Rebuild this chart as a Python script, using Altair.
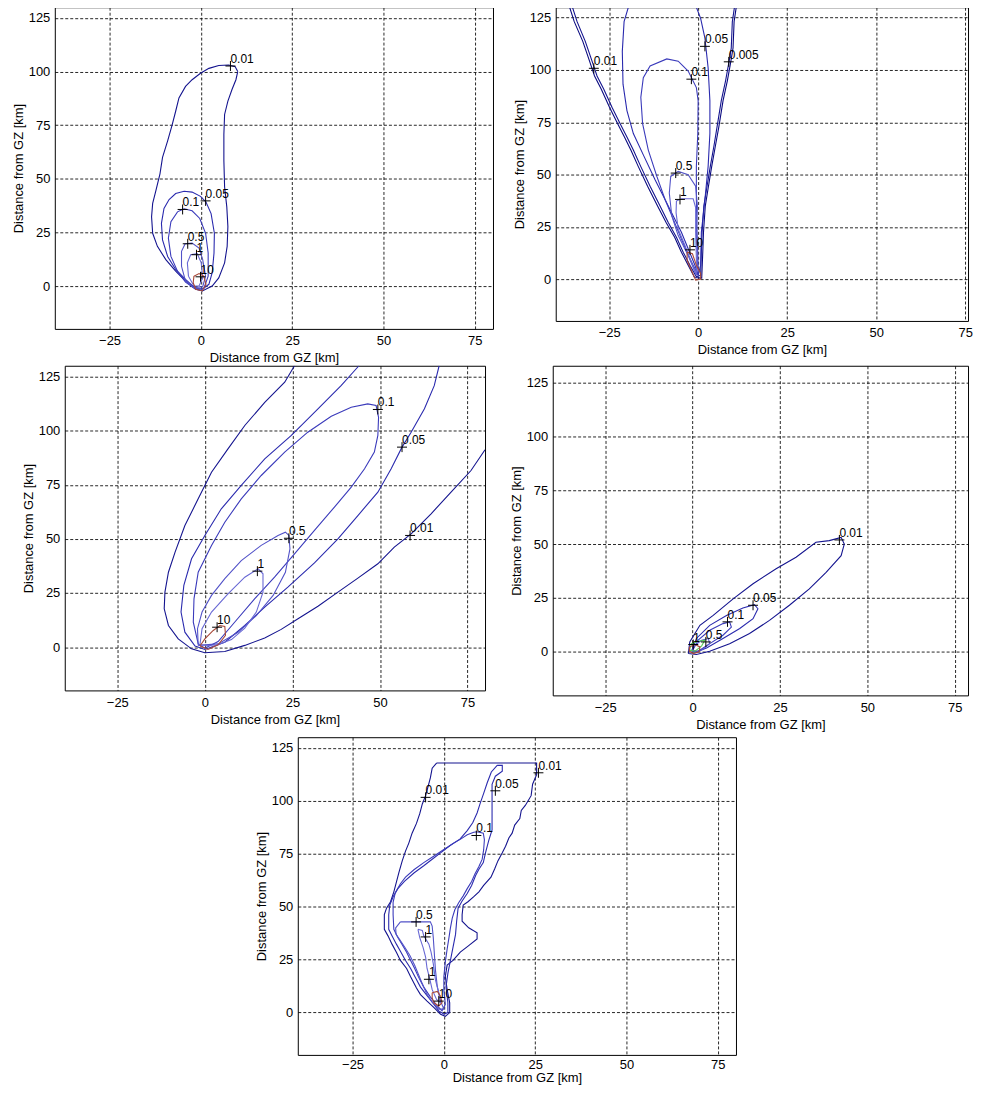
import altair as alt
import pandas as pd

# ---------------- shared axis values ----------------
XTICKS = [-25, 0, 25, 50, 75]
YTICKS = [0, 25, 50, 75, 100, 125]
AXIS_TITLE = "Distance from GZ [km]"

COLORS = {
    "0.005": "#0a0a80",
    "0.01": "#14148f",
    "0.05": "#2a2aae",
    "0.1": "#3a3abb",
    "0.5": "#5252c8",
    "1": "#6868d4",
    "1g": "#55cc55",
    "10": "#a84838",
}

# ---------------- panel 1 (top left) ----------------
P1_001 = [(10.1, 100), (9.4, 102.3), (7.6, 103.1), (4.9, 102.8), (2.2, 101.5), (-0.1, 99.2), (-2.4, 96.2),
          (-4.2, 93.1), (-6.0, 87.7), (-6.9, 81.5), (-7.9, 74.9), (-9.1, 67.7), (-10.5, 60), (-11.2, 52.3),
          (-12.3, 44.6), (-13.2, 38.5), (-13.5, 32.3), (-13.2, 24.6), (-11.9, 18.5), (-9.6, 12.3), (-6.9, 6.9),
          (-4.2, 2.3), (-1.4, -1.5), (0.4, -2.3), (3.1, 0), (4.9, 3.8), (6.5, 10.8), (7.2, 18.5), (7.4, 27.7),
          (7.1, 36.9), (6.5, 46.2), (6.3, 58.5), (6.3, 70.8), (6.5, 80), (7.4, 86.2), (8.5, 91.5), (9.6, 96.2)]
P1_005 = [(-1.4, -1.2), (-4.2, 3.1), (-6.9, 7.7), (-9.1, 13.8), (-10.5, 21.5), (-10.8, 29.2), (-10.1, 36.2),
          (-8.7, 40.3), (-6.9, 43.1), (-4.6, 44.2), (-2.4, 43.8), (-0.1, 41.8), (1.4, 39.2), (2.8, 33.8),
          (3.7, 24.6), (3.6, 15.4), (3.1, 6.2), (2.2, 0.8), (0.4, -1.5)]
P1_01 = [(-1.4, -1.5), (-4.2, 1.8), (-6.4, 6.9), (-8.2, 13.8), (-8.9, 22.3), (-8.2, 30), (-6.4, 34.6),
         (-4.6, 36), (-2.4, 35.1), (-0.3, 31.5), (1.3, 24.6), (2.0, 15.4), (2.0, 4.6), (0.8, -1.2)]
P1_05 = [(-1.9, -0.8), (-4.2, 2.3), (-5.3, 9.2), (-5.3, 16.2), (-4.3, 19.7), (-2.4, 20), (-0.5, 17.7),
         (0.5, 12.3), (1.3, 4.6), (0.5, -0.3)]
P1_1 = [(-1.9, 0), (-3.4, 4.6), (-3.7, 10.8), (-2.8, 14.6), (-1.0, 15.1), (0.1, 10.8), (0.5, 3.8), (-0.5, 0)]
P1_10 = [(-1.9, 4.6), (-0.5, 5.8), (0.8, 4.6), (1.4, 0.8), (0.4, -2.3), (-1.4, -1.5), (-2.1, 1.5)]
P1_LABELS = [("0.01", 8.1, 102.6), ("0.05", 1.3, 39.7), ("0.1", -5.0, 35.7), ("0.5", -3.6, 19.7),
             ("1", -1.2, 14.6), ("10", -0.1, 4.3)]

# ---------------- panel 2 (top right) ----------------
P2_0005 = [(-36.1, 130), (-34.8, 123.1), (-32.4, 113.7), (-30.5, 104.2), (-29.1, 97.1), (-27.2, 90.8),
           (-24.9, 82.2), (-22.6, 74.3), (-20.7, 68.0), (-18.9, 61.7), (-16.8, 53.8), (-14.2, 44.4),
           (-11.4, 35.0), (-9.0, 27.1), (-6.6, 20.0), (-4.7, 12.9), (-2.8, 6.6), (-1.0, 0.8), (1.0, 0.5),
           (1.3, 12.9), (1.5, 22.4), (2.0, 34.9), (2.9, 44.4), (3.8, 53.8), (4.8, 63.3), (5.8, 72.7),
           (7.0, 85.3), (8.2, 94.8), (9.2, 104.2), (9.8, 110.5), (10.1, 123.1), (10.7, 130)]
P2_001 = [(-35.3, 130), (-34.0, 123.1), (-31.7, 113.7), (-29.8, 104.2), (-28.4, 97.1), (-26.5, 90.8),
          (-24.2, 82.2), (-21.9, 74.3), (-20.0, 68.0), (-18.2, 61.7), (-16.1, 53.8), (-13.5, 44.4),
          (-10.7, 35.0), (-8.4, 27.1), (-6.1, 20.0), (-4.2, 12.9), (-2.3, 6.6), (-0.5, 1.1), (0.7, 1.9),
          (0.9, 12.9), (1.1, 22.4), (1.6, 34.9), (2.5, 44.4), (3.4, 53.8), (4.4, 63.3), (5.3, 72.7),
          (6.5, 85.3), (7.7, 94.8), (8.7, 104.2), (9.3, 110.5), (9.6, 123.1), (10.2, 130)]
P2_005 = [(-19.6, 130), (-20.8, 123.1), (-21.3, 108.9), (-21.1, 93.2), (-20.0, 80.6), (-18.2, 69.6),
          (-15.4, 59.4), (-12.1, 47.5), (-9.3, 38.1), (-7.0, 30.2), (-4.7, 22.4), (-2.8, 14.5), (-0.9, 6.6),
          (0.0, 1.9), (0.7, 6.6), (0.9, 22.4), (1.9, 38.1), (2.8, 53.8), (3.3, 69.6), (3.3, 85.3),
          (2.8, 101.1), (1.9, 115.2), (0.7, 124.7), (-0.5, 130)]
P2_01 = [(0.0, 1.9), (-2.3, 9.8), (-4.7, 19.2), (-7.0, 28.7), (-9.3, 38.1), (-11.6, 49.1), (-14.0, 61.7),
         (-15.6, 74.3), (-16.1, 86.9), (-15.4, 96.3), (-13.5, 101.9), (-8.8, 105.3), (-5.6, 104.2),
         (-2.8, 99.5), (-0.5, 91.6), (0.0, 85.3), (-0.1, 69.6), (-0.5, 53.8), (-0.5, 38.1), (-0.3, 22.4),
         (0.0, 6.6)]
P2_05 = [(-0.5, 1.9), (-2.8, 11.3), (-5.6, 20.8), (-7.4, 30.2), (-8.1, 41.2), (-7.7, 49.1), (-5.6, 51.5),
         (-2.8, 49.9), (-0.7, 44.4), (-0.2, 34.9), (-0.5, 22.4), (-0.2, 6.6)]
P2_1 = [(-0.5, 1.9), (-3.7, 16.1), (-5.6, 23.9), (-6.2, 31.8), (-6.1, 37.3), (-4.7, 38.4), (-1.4, 38.4),
        (-0.7, 34.2), (-0.7, 22.4), (-0.5, 9.8)]
P2_10 = [(-3.1, 12.9), (-1.6, 12.1), (-0.5, 6.6), (0.7, 2.7), (0.7, 0), (-0.7, -0.5), (-1.9, 4.2), (-3.1, 9.0)]
P2_LABELS = [("0.01", -29.3, 100.8), ("0.05", 1.9, 111.3), ("0.005", 8.6, 103.9), ("0.1", -1.9, 95.6),
             ("0.5", -6.3, 50.7), ("1", -5.1, 38.1), ("10", -2.3, 14.0)]

# ---------------- panel 3 (middle left) ----------------
P3_001 = [(25.6, 130), (22.8, 122.4), (17.1, 113.1), (11.4, 102.4), (6.6, 91.6), (1.9, 80.8), (-1.9, 68.5),
          (-5.7, 56.2), (-8.5, 43.9), (-10.4, 34.6), (-11.4, 25.4), (-11.6, 17.7), (-10.4, 10.0), (-7.6, 3.8),
          (-3.8, -0.8), (0, -2.6), (5.7, -2.0), (11.4, 0.8), (17.1, 4.2), (21.8, 8.2), (26.6, 13.1),
          (32.3, 18.9), (38.0, 25.4), (43.7, 31.9), (49.4, 38.5), (54.1, 46.2), (58.9, 52.3), (64.6, 61.6),
          (70.3, 71.6), (76.0, 81.6), (80, 91.2)]
P3_005 = [(44.0, 130), (38.9, 120.8), (32.3, 110.1), (24.7, 97.8), (17.1, 87.0), (10.4, 74.7), (4.7, 63.9),
          (0, 51.6), (-3.8, 40.8), (-6.0, 28.5), (-6.8, 16.2), (-5.7, 6.9), (-2.8, 0.5), (0, -1.1), (5.7, 2.3),
          (11.4, 10.0), (17.1, 18.5), (23.7, 27.7), (31.3, 38.9), (38.0, 50.0), (43.7, 60.8), (49.4, 71.6),
          (53.2, 82.4), (56.3, 92.4), (58.9, 99.3), (62.7, 110.1), (65.5, 120.8), (66.9, 130)]
P3_01 = [(-1.9, 1.5), (-3.3, 11.5), (-3.1, 22.3), (-1.9, 34.6), (1.9, 47.0), (5.7, 57.7), (10.4, 68.5),
         (16.1, 79.3), (22.8, 90.1), (29.4, 99.3), (36.1, 106.7), (41.8, 110.8), (46.5, 112.4), (48.9, 111.6),
         (49.6, 106.2), (49.4, 97.8), (48.4, 90.1), (45.6, 82.4), (41.8, 73.9), (37.0, 64.7), (31.3, 53.9),
         (25.6, 43.1), (19.9, 32.3), (14.2, 22.3), (8.5, 11.5), (3.8, 2.6), (0, -0.5)]
P3_05 = [(-1.9, 0.8), (-2.1, 8.5), (-0.8, 16.2), (1.9, 23.9), (5.7, 31.6), (10.4, 40.0), (16.1, 47.0),
         (20.9, 51.6), (23.0, 53.1), (24.0, 51.6), (24.3, 45.4), (23.0, 34.6), (19.5, 23.9), (14.7, 14.6),
         (9.5, 6.9), (3.8, 1.5)]
P3_1 = [(-1.4, 1.1), (-0.8, 8.5), (1.9, 16.2), (6.6, 24.6), (11.4, 32.3), (15.2, 36.2), (16.6, 33.9),
        (16.6, 25.4), (14.7, 16.2), (11.4, 8.8), (7.6, 3.5), (2.8, 0.5)]
P3_10 = [(-1.4, 0.5), (0, 3.8), (2.4, 7.7), (4.3, 10.0), (5.7, 9.5), (5.9, 5.4), (3.8, 1.1), (0.9, -1.1)]
P3_LABELS = [("0.1", 49.4, 109.8), ("0.05", 56.3, 92.4), ("0.01", 58.6, 51.6), ("0.5", 24.0, 50.3),
             ("1", 15.0, 35.1), ("10", 3.5, 9.2)]

# ---------------- panel 4 (middle right) ----------------
P4_001 = [(-1.2, -0.8), (-0.8, 4.6), (2.1, 12.3), (5.9, 16.9), (11.6, 24.6), (17.3, 31.6), (23.9, 38.5),
          (29.6, 43.9), (35.3, 50.8), (39.1, 51.6), (42.5, 53.1), (43.4, 50.0), (42.5, 44.6), (38.2, 36.9),
          (33.4, 29.2), (27.7, 21.6), (22.0, 14.6), (16.3, 8.5), (10.6, 3.8), (4.9, 0.3), (1.1, -1.2)]
P4_005 = [(-0.3, 0.3), (1.1, 6.2), (4.9, 12.3), (9.7, 16.9), (14.4, 20.3), (17.7, 21.9), (18.7, 20.0),
          (17.3, 15.4), (13.5, 10.8), (8.7, 6.2), (4.0, 1.8), (1.1, 0)]
P4_01 = [(0, 0.6), (1.6, 5.4), (4.9, 10.0), (8.7, 13.1), (10.6, 13.9), (11.1, 11.5), (8.7, 7.7), (4.9, 3.8),
         (1.6, 0.3)]
P4_05 = [(-0.3, 0.3), (0.7, 3.1), (2.6, 5.4), (4.5, 6.2), (4.9, 3.8), (3.0, 1.2), (0.7, -0.3)]
P4_1 = [(-0.9, 0.8), (-0.3, 3.8), (1.6, 4.9), (3.5, 5.4), (2.6, 2.8), (0.7, 0.3)]
P4_10 = [(-0.9, 2.3), (0.7, 3.4), (2.1, 2.3), (1.9, 0), (0.2, -0.8), (-0.9, 0.3)]
P4_LABELS = [("0.01", 42.0, 51.9), ("0.05", 17.3, 21.6), ("0.1", 10.0, 13.9), ("0.5", 3.8, 4.6),
             ("1", 0.2, 3.4)]

# ---------------- panel 5 (bottom) ----------------
P5_001 = [(-2.0, 117.8), (25.4, 117.8), (25.4, 112.3), (24.3, 107.8), (23.9, 102.4), (22.3, 97.8),
          (21.2, 95.4), (20.8, 91.6), (19.4, 88.5), (18.7, 84.7), (17.8, 82.4), (16.9, 78.5), (16.0, 75.4),
          (14.8, 71.6), (13.9, 67.8), (12.9, 63.9), (10.9, 60.0), (9.6, 57.0), (8.2, 54.7), (6.6, 52.3),
          (5.3, 50.8), (5.0, 46.2), (5.0, 43.1), (6.8, 40.0), (9.1, 37.7), (9.1, 34.7), (6.8, 31.6),
          (4.5, 28.5), (2.5, 24.6), (0.9, 22.4), (0.4, 17.0), (0.9, 10.8), (1.6, 4.6), (1.6, 0), (0.4, -1.8),
          (-0.9, -0.8), (-2.7, 2.3), (-4.6, 5.4), (-6.4, 8.5), (-7.5, 11.6), (-9.1, 16.9), (-10.2, 20.8),
          (-11.9, 24.6), (-13.0, 28.5), (-14.2, 32.3), (-15.3, 36.2), (-16.3, 39.3), (-16.3, 46.2),
          (-15.7, 49.3), (-14.6, 52.3), (-13.7, 57.0), (-13.0, 61.6), (-12.3, 66.2), (-11.4, 71.6),
          (-10.5, 76.2), (-9.6, 80.0), (-8.7, 84.7), (-7.5, 89.3), (-6.6, 93.9), (-5.9, 98.5), (-5.0, 102.4),
          (-4.4, 106.2), (-3.7, 110.8), (-3.2, 115.4)]
P5_005 = [(14.6, 116.7), (16.0, 116.7), (16.0, 113.9), (14.1, 111.6), (13.2, 107.8), (13.2, 95.4),
          (13.2, 86.2), (12.3, 81.3), (11.4, 75.4), (10.8, 70.8), (9.6, 67.7), (8.7, 64.7), (7.6, 60.0),
          (6.4, 56.2), (5.0, 52.7), (3.9, 49.3), (3.5, 43.1), (3.2, 36.9), (2.5, 30.8), (1.8, 24.6),
          (1.1, 18.5), (0.6, 12.3), (1.1, 4.6), (1.1, 0), (0, -0.7), (-1.4, 0.8), (-2.9, 4.3), (-4.6, 8.0),
          (-6.4, 12.0), (-7.8, 16.6), (-9.1, 20.8), (-10.5, 24.6), (-11.9, 28.9), (-13.0, 32.3),
          (-14.1, 35.9), (-15.1, 39.3), (-15.1, 46.2), (-14.8, 50.8), (-13.9, 54.7), (-12.6, 58.5),
          (-10.8, 61.9), (-8.2, 65.9), (-5.5, 69.3), (-3.2, 72.4), (-0.9, 75.4), (1.8, 79.0), (4.4, 81.9),
          (6.4, 85.9), (7.9, 89.6), (9.1, 94.2), (9.9, 98.5), (10.9, 103.5), (11.9, 108.6), (13.0, 113.6)]
P5_01 = [(9.1, 85.4), (10.8, 84.7), (11.1, 81.6), (10.9, 76.9), (10.5, 72.4), (9.6, 69.0), (8.5, 65.4),
         (7.6, 61.9), (6.4, 58.5), (5.3, 55.1), (4.1, 52.0), (3.0, 48.5), (2.3, 44.6), (1.8, 40.0),
         (1.4, 35.4), (0.9, 30.0), (0.4, 23.9), (0, 16.9), (0, 10.8), (0.4, 3.9), (-0.5, 0.8), (-1.8, 3.1),
         (-3.7, 7.4), (-5.5, 12.0), (-6.9, 16.6), (-8.0, 20.8), (-9.1, 24.6), (-10.2, 28.5), (-11.4, 32.0),
         (-12.6, 35.4), (-13.7, 39.3), (-13.9, 46.2), (-13.9, 52.0), (-13.3, 56.6), (-11.9, 60.8),
         (-10.5, 63.9), (-8.2, 67.4), (-5.5, 70.8), (-2.7, 73.9), (0, 77.0), (2.7, 80.0), (4.6, 81.9),
         (6.4, 83.9), (8.2, 85.1)]
P5_05 = [(-11.9, 42.8), (-3.7, 42.8), (-3.2, 40.8), (-2.9, 35.4), (-2.6, 27.7), (-2.3, 20.0), (-1.8, 12.3),
         (-0.9, 5.4), (0, 1.6), (-1.4, 1.6), (-3.2, 4.9), (-4.7, 8.9), (-5.9, 13.6), (-6.9, 17.7),
         (-8.0, 22.3), (-9.3, 26.9), (-10.7, 30.8), (-12.0, 34.2), (-13.1, 36.9), (-13.2, 40.0)]
P5_1 = [(-7.1, 39.3), (-5.9, 38.8), (-5.5, 36.2), (-4.1, 32.3), (-3.5, 28.5), (-2.9, 23.1), (-2.3, 15.4),
        (-1.4, 9.3), (-0.9, 4.6), (-2.0, 6.2), (-3.2, 10.8), (-3.8, 15.4), (-4.6, 20.8), (-5.0, 26.2),
        (-5.7, 30.8), (-6.6, 35.4)]
P5_10 = [(-3.2, 9.3), (-1.8, 10.0), (-0.9, 7.7), (-0.5, 4.6), (-1.4, 3.1), (-2.7, 4.6), (-3.2, 6.9)]
P5_LABELS = [("0.01", -5.0, 101.6), ("0.01", 25.9, 113.2), ("0.05", 14.1, 104.7), ("0.1", 8.9, 83.6),
             ("0.5", -7.6, 42.8), ("1", -5.0, 35.7), ("1", -4.1, 15.7), ("10", -1.4, 5.4)]

FONT = "Liberation Sans"


def make_panel(contours, labels, width, height, xmax, ydom=(-20, 130), label_pad=6, title_pad=4):
    rows = []
    for cid, (key, pts, closed) in enumerate(contours):
        seq = list(pts) + ([pts[0]] if closed else [])
        for i, (x, y) in enumerate(seq):
            rows.append({"cid": cid, "i": i, "x": x, "y": y, "col": COLORS[key]})
    lines_df = pd.DataFrame(rows)
    lab_df = pd.DataFrame(labels, columns=["txt", "x", "y"])

    xenc = alt.X("x:Q", scale=alt.Scale(domain=[-40, xmax], nice=False, zero=False),
                 axis=alt.Axis(values=XTICKS, title=AXIS_TITLE, grid=True, ticks=False, domain=False,
                               labelPadding=label_pad, titlePadding=title_pad, labelFlush=False))
    yenc = alt.Y("y:Q", scale=alt.Scale(domain=list(ydom), nice=False, zero=False),
                 axis=alt.Axis(values=YTICKS, title=AXIS_TITLE, grid=True, ticks=False, domain=False,
                               labelPadding=5, titlePadding=3, labelFlush=False))

    lines = alt.Chart(lines_df).mark_line(strokeWidth=1.1, clip=True).encode(
        x=xenc, y=yenc, detail="cid:N", order="i:Q", color=alt.Color("col:N", scale=None))
    crosses = alt.Chart(lab_df).mark_point(shape="M-1,0L1,0M0,-1L0,1", size=100, filled=False,
                                           color="black", strokeWidth=1, opacity=1).encode(x=xenc, y=yenc)
    texts = alt.Chart(lab_df).mark_text(align="left", baseline="alphabetic", dx=0, dy=-3, fontSize=12,
                                        font=FONT, color="black").encode(x=xenc, y=yenc, text="txt:N")
    return alt.layer(lines, crosses, texts).properties(width=width, height=height)


def spacer(w, h):
    return alt.Chart(pd.DataFrame({"a": [0]})).mark_point(opacity=0, size=1).encode(
        x=alt.value(w / 2), y=alt.value(h / 2)).properties(width=w, height=h,
                                                            view=alt.ViewBackground(stroke="transparent"))


p1 = make_panel([("0.01", P1_001, True), ("0.05", P1_005, True), ("0.1", P1_01, True),
                 ("0.5", P1_05, True), ("1", P1_1, True), ("10", P1_10, True)], P1_LABELS, 440, 323, 80)
p2 = make_panel([("0.005", P2_0005, False), ("0.01", P2_001, False), ("0.05", P2_005, False),
                 ("0.1", P2_01, True), ("0.5", P2_05, True), ("1", P2_1, True), ("10", P2_10, True)],
                P2_LABELS, 414, 315, 75.8)
p3 = make_panel([("0.01", P3_001, False), ("0.05", P3_005, False), ("0.1", P3_01, True),
                 ("0.5", P3_05, True), ("1", P3_1, True), ("10", P3_10, True)], P3_LABELS, 422, 326, 80)
p4 = make_panel([("0.01", P4_001, True), ("0.05", P4_005, True), ("0.1", P4_01, True),
                 ("0.5", P4_05, True), ("1g", P4_1, True), ("10", P4_10, True)], P4_LABELS, 417, 331, 78.8,
                ydom=(-20.2, 132.7))
p5 = make_panel([("0.01", P5_001, True), ("0.05", P5_005, True), ("0.1", P5_01, True),
                 ("0.5", P5_05, True), ("1", P5_1, True), ("10", P5_10, True)], P5_LABELS, 440, 319, 80,
                label_pad=4, title_pad=0)

row1 = alt.hconcat(spacer(1, 1), p1, spacer(16, 1), p2, spacing=0)
row2 = alt.hconcat(spacer(11, 1), p3, spacer(21, 1), p4, spacing=0)
row3 = alt.hconcat(spacer(245, 1), p5, spacing=0)

chart = alt.vconcat(row1, row2, spacer(1, 4), row3, spacing=-1).properties(
    padding={"left": 0, "top": -4, "right": 0, "bottom": 0}, background="white"
).configure_view(stroke="black", strokeWidth=1).configure_axis(
    labelFont=FONT, labelFontSize=13, labelColor="black", titleFont=FONT, titleFontSize=13,
    titleFontWeight="normal", titleColor="black", gridColor="black", gridDash=[3, 2], gridOpacity=0.85,
    gridWidth=1)

chart.save("out.html", embed_options={"renderer": "svg", "actions": False})
